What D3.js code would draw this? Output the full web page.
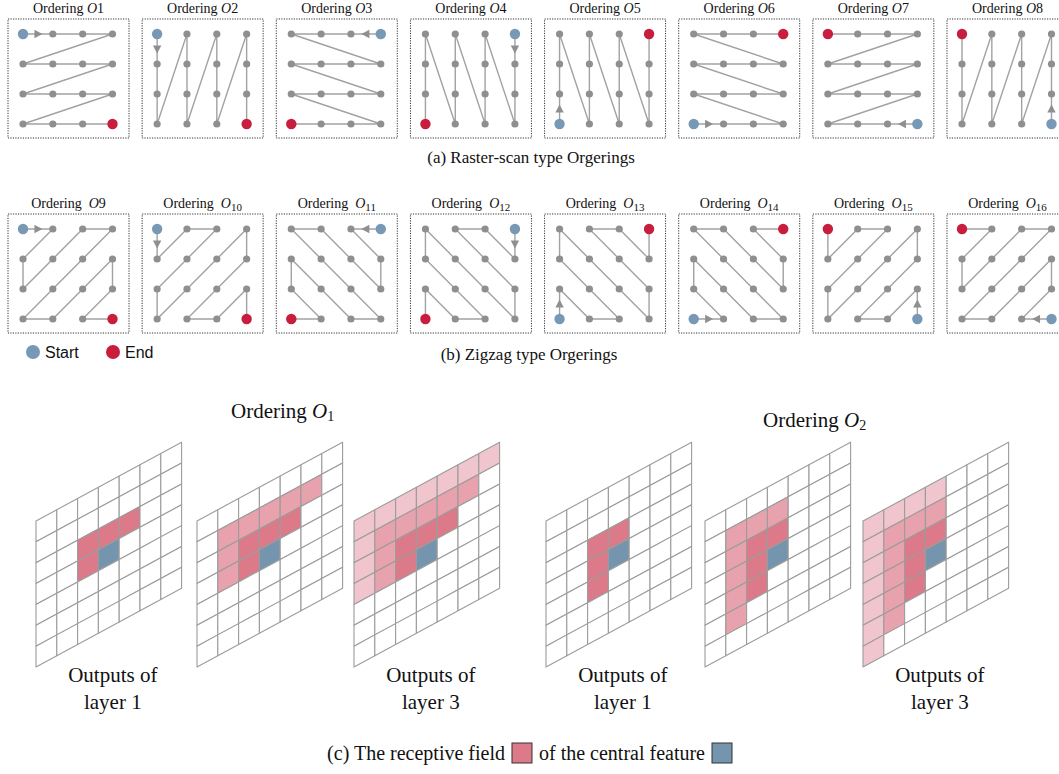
<!DOCTYPE html>
<html>
<head>
<meta charset="utf-8">
<script src="https://cdn.jsdelivr.net/npm/d3@7"></script>
<style>
  body { margin: 0; background: #fff; }
  svg { display: block; }
  .serif { font-family: "Liberation Serif", "DejaVu Serif", serif; fill: #111; }
  .sans { font-family: "Liberation Sans", Arial, sans-serif; fill: #111; }
</style>
</head>
<body>
<svg id="chart" width="1059" height="774"></svg>
<script>
/* Orderings of a 4x4 grid + receptive fields on a 7x7 grid.
   node index = row*4 + col, row 0 is the top row */

// raster-scan orderings O1..O8
var rasterLabels = ["1", "2", "3", "4", "5", "6", "7", "8"];
var rasterOrders = [
  [0, 1, 2, 3, 4, 5, 6, 7, 8, 9, 10, 11, 12, 13, 14, 15],
  [0, 4, 8, 12, 1, 5, 9, 13, 2, 6, 10, 14, 3, 7, 11, 15],
  [3, 2, 1, 0, 7, 6, 5, 4, 11, 10, 9, 8, 15, 14, 13, 12],
  [3, 7, 11, 15, 2, 6, 10, 14, 1, 5, 9, 13, 0, 4, 8, 12],
  [12, 8, 4, 0, 13, 9, 5, 1, 14, 10, 6, 2, 15, 11, 7, 3],
  [12, 13, 14, 15, 8, 9, 10, 11, 4, 5, 6, 7, 0, 1, 2, 3],
  [15, 14, 13, 12, 11, 10, 9, 8, 7, 6, 5, 4, 3, 2, 1, 0],
  [15, 11, 7, 3, 14, 10, 6, 2, 13, 9, 5, 1, 12, 8, 4, 0]
];

// zigzag orderings O9..O16
var zigzagLabels = ["9", "10", "11", "12", "13", "14", "15", "16"];
var zigzagOrders = [
  [0, 1, 4, 8, 5, 2, 3, 6, 9, 12, 13, 10, 7, 11, 14, 15],
  [0, 4, 1, 2, 5, 8, 12, 9, 6, 3, 7, 10, 13, 14, 11, 15],
  [3, 2, 7, 11, 6, 1, 0, 5, 10, 15, 14, 9, 4, 8, 13, 12],
  [3, 7, 2, 1, 6, 11, 15, 10, 5, 0, 4, 9, 14, 13, 8, 12],
  [12, 8, 13, 14, 9, 4, 0, 5, 10, 15, 11, 6, 1, 2, 7, 3],
  [12, 13, 8, 4, 9, 14, 15, 10, 5, 0, 1, 6, 11, 7, 2, 3],
  [15, 11, 14, 13, 10, 7, 3, 6, 9, 12, 8, 5, 2, 1, 4, 0],
  [15, 14, 11, 7, 10, 13, 12, 9, 6, 3, 2, 5, 8, 4, 1, 0]
];

// receptive field of the central cell [3,3] of a 7x7 map, as [row, col]
// entries: cells added at layer 1, layer 2, layer 3
var fieldO1 = [
  [[2, 2], [2, 3], [2, 4], [3, 2]],
  [[1, 1], [1, 2], [1, 3], [1, 4], [1, 5], [2, 1], [3, 1]],
  [[0, 0], [0, 1], [0, 2], [0, 3], [0, 4], [0, 5], [0, 6], [1, 0], [2, 0], [3, 0]]
];
var fieldO2 = [
  [[2, 2], [3, 2], [4, 2], [2, 3]],
  [[1, 1], [2, 1], [3, 1], [4, 1], [5, 1], [1, 2], [1, 3]],
  [[0, 0], [1, 0], [2, 0], [3, 0], [4, 0], [5, 0], [6, 0], [0, 1], [0, 2], [0, 3]]
];
var centerCell = [3, 3];

// which field / how many layers per drawn map
var mapFields = [fieldO1, fieldO1, fieldO1, fieldO2, fieldO2, fieldO2];
var mapDepth = [1, 2, 3, 1, 2, 3];
var mapLabels = ["layer 1", "", "layer 3", "layer 1", "", "layer 3"];

/*** colours ***/
var startColor = "#7899b6",
    endColor = "#c81d3d",
    nodeColor = "#8f8f8f",
    pathColor = "#a2a2a2",
    gridLine = "#9c9c9c",
    layerColor = ["#dc7a8a", "#e7a2ad", "#f1c5cd"],
    centerColor = "#7594ad";

var svg = d3.select("#chart");

/*** ordering panels ***/
var panelX = d3.scaleLinear().domain([0, 7]).range([8, 947]);
var colX = d3.scaleLinear().domain([0, 3]).range([15, 104.5]);
var rowY = d3.scaleLinear().domain([0, 3]).range([15, 105]);

function drawPanel(g, order, label, sub) {
  g.append("rect")
    .attr("x", 0).attr("y", 0)
    .attr("width", 121).attr("height", 119)
    .attr("fill", "none")
    .attr("stroke", "#333")
    .attr("stroke-width", 1)
    .attr("stroke-dasharray", "1.2,1.3");

  var pos = function(i) { return [colX(i % 4), rowY(Math.floor(i / 4))]; };

  var line = d3.line();
  g.append("path")
    .attr("d", line(order.map(pos)))
    .attr("fill", "none")
    .attr("stroke", pathColor)
    .attr("stroke-width", 1.4);

  // arrow between first and second node
  var a = pos(order[0]), b = pos(order[1]);
  var ang = Math.atan2(b[1] - a[1], b[0] - a[0]) * 180 / Math.PI;
  g.append("path")
    .attr("d", "M4.5,0L-3.5,-4.2L-3.5,4.2Z")
    .attr("fill", nodeColor)
    .attr("transform", "translate(" + ((a[0] + b[0]) / 2) + "," + ((a[1] + b[1]) / 2) + ") rotate(" + ang + ")");

  g.selectAll("circle.node")
    .data(d3.range(16))
    .enter().append("circle")
      .attr("class", "node")
      .attr("cx", function(i) { return pos(i)[0]; })
      .attr("cy", function(i) { return pos(i)[1]; })
      .attr("r", function(i) { return (i == order[0] || i == order[15]) ? 5.2 : 3.6; })
      .attr("fill", function(i) {
        if (i == order[0]) return startColor;
        if (i == order[15]) return endColor;
        return nodeColor;
      });

  var t = g.append("text")
    .attr("class", "serif")
    .attr("x", 60.5)
    .attr("y", -6)
    .attr("text-anchor", "middle")
    .style("font-size", "14px");
  t.append("tspan").text(sub ? "Ordering\u00a0\u00a0" : "Ordering ");
  t.append("tspan").style("font-style", "italic").text("O");
  if (sub && label.length > 1) {
    t.append("tspan").attr("dy", 3).style("font-size", "11px").text(label);
  } else {
    t.append("tspan").text(label);
  }
}

rasterOrders.forEach(function(order, k) {
  var g = svg.append("g").attr("transform", "translate(" + panelX(k) + ",19)");
  drawPanel(g, order, rasterLabels[k], false);
});
zigzagOrders.forEach(function(order, k) {
  var g = svg.append("g").attr("transform", "translate(" + panelX(k) + ",214)");
  drawPanel(g, order, zigzagLabels[k], true);
});

svg.append("text").attr("class", "serif")
  .attr("x", 531).attr("y", 163)
  .attr("text-anchor", "middle")
  .style("font-size", "17px")
  .text("(a) Raster-scan type Orgerings");

svg.append("text").attr("class", "serif")
  .attr("x", 529).attr("y", 360)
  .attr("text-anchor", "middle")
  .style("font-size", "17px")
  .text("(b) Zigzag type Orgerings");

// legend
var legend = [["Start", startColor, 33], ["End", endColor, 113]];
legend.forEach(function(d) {
  svg.append("circle").attr("cx", d[2]).attr("cy", 352).attr("r", 7).attr("fill", d[1]);
  svg.append("text").attr("class", "sans")
    .attr("x", d[2] + 12).attr("y", 358)
    .style("font-size", "16px")
    .text(d[0]);
});

/*** receptive field maps ***/
var mapX = [36, 197, 354, 546, 705, 863];
var mapTop = 521;
var cellU = d3.scaleLinear().domain([0, 7]).range([0, 145.6]);   // x along a row
var cellSkew = d3.scaleLinear().domain([0, 7]).range([0, -78.8]); // y rise along a row
var cellV = d3.scaleLinear().domain([0, 7]).range([0, 146]);     // y down a column

function corner(c, r) { return [cellU(c), cellSkew(c) + cellV(r)]; }

mapX.forEach(function(x0, m) {
  var g = svg.append("g").attr("transform", "translate(" + x0 + "," + mapTop + ")");
  var fill = {};
  var field = mapFields[m];
  for (var l = mapDepth[m] - 1; l >= 0; l--) {
    field[l].forEach(function(rc) { fill[rc[0] + "," + rc[1]] = layerColor[l]; });
  }
  fill[centerCell[0] + "," + centerCell[1]] = centerColor;

  var cells = [];
  for (var r = 0; r < 7; r++) for (var c = 0; c < 7; c++) cells.push([r, c]);

  g.selectAll("path.cell")
    .data(cells)
    .enter().append("path")
      .attr("class", "cell")
      .attr("d", function(d) {
        var r = d[0], c = d[1];
        return d3.line()([corner(c, r), corner(c + 1, r), corner(c + 1, r + 1), corner(c, r + 1)]) + "Z";
      })
      .attr("fill", function(d) { return fill[d[0] + "," + d[1]] || "#fff"; })
      .attr("stroke", gridLine)
      .attr("stroke-width", 1.1)
      .attr("stroke-linejoin", "round");

  if (mapLabels[m]) {
    var cx = x0 + cellU(3.5) + 4;
    svg.append("text").attr("class", "serif")
      .attr("x", cx).attr("y", 682)
      .attr("text-anchor", "middle")
      .style("font-size", "21px")
      .text("Outputs of");
    svg.append("text").attr("class", "serif")
      .attr("x", cx).attr("y", 709)
      .attr("text-anchor", "middle")
      .style("font-size", "21px")
      .text(mapLabels[m]);
  }
});

// titles above maps
function orderingTitle(x, y, sub) {
  var t = svg.append("text").attr("class", "serif")
    .attr("x", x).attr("y", y)
    .style("font-size", "21px");
  t.append("tspan").text("Ordering ");
  t.append("tspan").style("font-style", "italic").text("O");
  t.append("tspan").attr("dy", 3).style("font-size", "14px").text(sub);
}
orderingTitle(231, 418, "1");
orderingTitle(763, 427, "2");

// caption (c) with the two colour swatches, right end lined up at x=732
var cap = svg.append("g");
var capY = 760, capSize = "20px";
var t1 = cap.append("text").attr("class", "serif")
  .attr("y", capY).style("font-size", capSize)
  .text("(c) The receptive field");
var t2 = cap.append("text").attr("class", "serif")
  .attr("y", capY).style("font-size", capSize)
  .text("of the central feature");
var w1 = t1.node().getComputedTextLength(),
    w2 = t2.node().getComputedTextLength();
var gap = 7, box = 20;
var capX = 732 - (w1 + gap + box + gap + w2 + gap + box);
t1.attr("x", capX);
cap.append("rect")
  .attr("x", capX + w1 + gap).attr("y", capY - 17)
  .attr("width", box).attr("height", box)
  .attr("fill", layerColor[0]).attr("stroke", "#333").attr("stroke-width", 1);
t2.attr("x", capX + w1 + gap + box + gap);
cap.append("rect")
  .attr("x", capX + w1 + gap + box + gap + w2 + gap).attr("y", capY - 17)
  .attr("width", box).attr("height", box)
  .attr("fill", centerColor).attr("stroke", "#333").attr("stroke-width", 1);
</script>
</body>
</html>
